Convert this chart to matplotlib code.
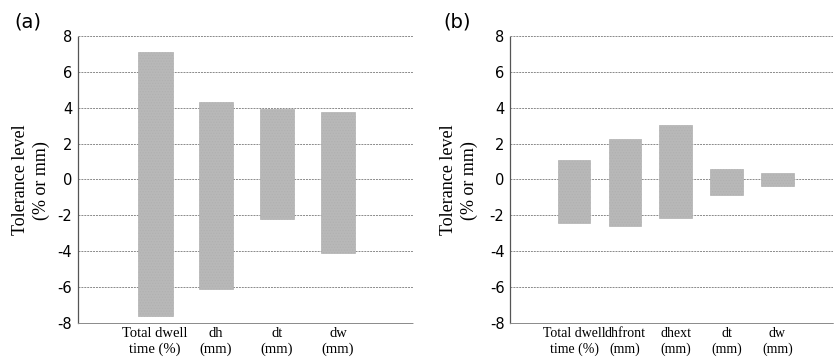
import numpy as np
import matplotlib
matplotlib.use("Agg")
import matplotlib.pyplot as plt

# panel (a) tolerance ranges
cats_a = ["Total dwell\ntime (%)", "dh\n(mm)", "dt\n(mm)", "dw\n(mm)"]
upper_a = [7.1, 4.3, 3.95, 3.75]
lower_a = [-7.6, -6.1, -2.2, -4.1]

# panel (b) tolerance ranges
cats_b = ["Total dwell\ntime (%)", "dhfront\n(mm)", "dhext\n(mm)", "dt\n(mm)", "dw\n(mm)"]
upper_b = [1.1, 2.25, 3.05, 0.6, 0.35]
lower_b = [-2.45, -2.6, -2.15, -0.85, -0.35]

yticks = [-8, -6, -4, -2, 0, 2, 4, 6, 8]

serif = ["Liberation Serif", "DejaVu Serif"]
bar_col = "#b8b8b8"
plt.rcParams["hatch.color"] = "#a4a4a4"
plt.rcParams["hatch.linewidth"] = 0.5

grid_style = dict(color="#8a8a8a", linestyle=(0, (2, 1)), linewidth=0.7)


def draw_panel(ax, cats, upper, lower, width, xlim, tag, fig, tag_x, ylab_x, cat_fs):
    x = np.arange(len(cats))
    up = np.array(upper)
    lo = np.array(lower)
    ax.bar(x, up - lo, bottom=lo, width=width, color=bar_col,
           edgecolor="#b0b0b0", linewidth=0.5, hatch="......", zorder=3)
    ax.set_ylim(-8, 8)
    ax.set_xlim(*xlim)
    ax.set_yticks(yticks)
    ax.set_yticklabels([str(t) for t in yticks], fontsize=10.5)
    ax.set_xticks(x)
    ax.set_xticklabels(cats, fontsize=cat_fs, family=serif, linespacing=1.2)
    ax.tick_params(axis="both", length=0, pad=4)
    ax.tick_params(axis="x", pad=3)
    ax.grid(axis="y", zorder=0, **grid_style)
    for s in ["top", "right"]:
        ax.spines[s].set_visible(False)
    ax.spines["bottom"].set(**grid_style)
    ax.spines["left"].set_color("#555555")
    ax.spines["left"].set_linestyle((0, (1, 1)))
    ax.spines["left"].set_linewidth(0.9)
    fig.text(tag_x, 0.94, tag, fontsize=14, ha="center", va="center")
    fig.text(ylab_x, 0.505, "Tolerance level\n(% or mm)", rotation=90,
             ha="center", va="center", fontsize=13, family=serif,
             linespacing=1.3)


fig = plt.figure(figsize=(8.34, 3.64), dpi=100)
ax_a = fig.add_axes([0.0932, 0.113, 0.402, 0.788])
ax_b = fig.add_axes([0.6115, 0.113, 0.387, 0.788])

for ax in (ax_a, ax_b):
    ax.set_facecolor("white")

draw_panel(ax_a, cats_a, upper_a, lower_a, 0.57, (-1.27, 4.23), "(a)", fig, 0.034, 0.037, 10.5)
draw_panel(ax_b, cats_b, upper_b, lower_b, 0.64, (-1.26, 5.09), "(b)", fig, 0.548, 0.550, 10)

fig.savefig("out.png", dpi=100, facecolor="white")
